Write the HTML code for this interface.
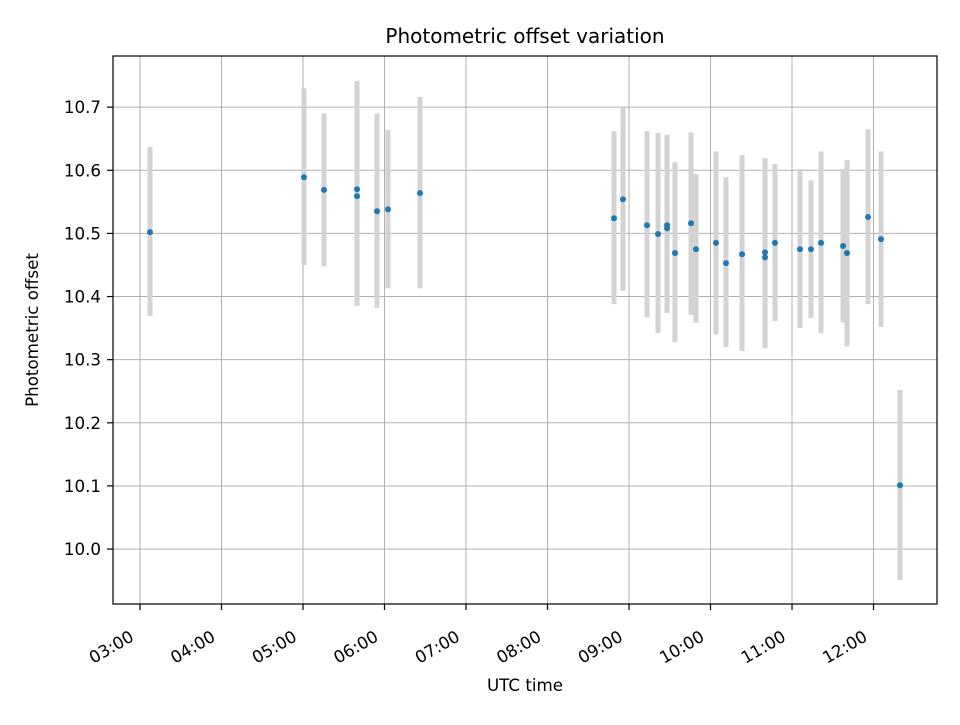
<!DOCTYPE html>
<html><head><meta charset="utf-8"><style>
body{margin:0;background:#fff;}
svg text{font-family:"DejaVu Sans","Liberation Sans",sans-serif;fill:#000;}
</style></head><body>
<svg id="chart" width="960" height="720">
<text x="525" y="43" font-size="20" text-anchor="middle">Photometric offset variation</text>
<text x="525" y="691" font-size="16.7" text-anchor="middle">UTC time</text>
<text transform="translate(38,330) rotate(-90)" font-size="16.7" text-anchor="middle">Photometric offset</text>
<g id="grid"></g><g id="bars"></g><g id="pts"></g><g id="axes"></g>
</svg>
<script>
const hours=[3.123,5.012,5.258,5.663,5.663,5.908,6.043,6.436,8.816,8.926,9.221,9.356,9.467,9.467,9.564,9.761,9.822,10.067,10.190,10.387,10.669,10.669,10.791,11.098,11.233,11.356,11.626,11.675,11.933,12.092,12.325];
const values=[10.502,10.589,10.569,10.570,10.559,10.535,10.538,10.564,10.524,10.554,10.513,10.499,10.513,10.508,10.469,10.516,10.475,10.485,10.453,10.467,10.470,10.462,10.485,10.475,10.475,10.485,10.480,10.469,10.526,10.491,10.101];
const errLow=[10.369,10.450,10.448,10.385,10.385,10.382,10.413,10.413,10.388,10.409,10.367,10.342,10.374,10.374,10.328,10.371,10.358,10.340,10.320,10.314,10.318,10.318,10.361,10.350,10.366,10.342,10.359,10.321,10.388,10.352,9.951];
const errHigh=[10.637,10.730,10.690,10.741,10.741,10.690,10.664,10.716,10.662,10.700,10.662,10.659,10.656,10.656,10.613,10.660,10.594,10.630,10.589,10.624,10.619,10.619,10.610,10.602,10.584,10.630,10.602,10.616,10.665,10.630,10.252];
const xTickHours=[3,4,5,6,7,8,9,10,11,12];
const xTickLabels=["03:00","04:00","05:00","06:00","07:00","08:00","09:00","10:00","11:00","12:00"];
const yTicks=[10.0,10.1,10.2,10.3,10.4,10.5,10.6,10.7];
const yTickLabels=["10.0","10.1","10.2","10.3","10.4","10.5","10.6","10.7"];

const L=113,R=937,T=56,B=604,X0=2.669,X1=12.779,Y0=9.913,Y1=10.781;
const sx=h=>L+(h-X0)/(X1-X0)*(R-L);
const sy=v=>B-(v-Y0)/(Y1-Y0)*(B-T);
const NS="http://www.w3.org/2000/svg";
function mk(tag,attrs,parent){const e=document.createElementNS(NS,tag);for(const k in attrs)e.setAttribute(k,attrs[k]);document.getElementById(parent).appendChild(e);return e;}

xTickHours.forEach((h,i)=>{
  const x=sx(h);
  const g=mk('line',{x1:x,x2:x,y1:T,y2:B,stroke:'#b0b0b0','stroke-width':1},'grid');
  
  
  const t=mk('line',{x1:x,x2:x,y1:B,y2:B+6,stroke:'#000','stroke-width':1.2},'axes');
  
  
  const lb=mk('text',{transform:`translate(${x-5},${B+36}) rotate(-30)`,'font-size':16.7,'text-anchor':'end'},'axes');
  lb.textContent=xTickLabels[i];
  
  
});
yTicks.forEach((v,i)=>{
  const y=sy(v);
  const g=mk('line',{x1:L,x2:R,y1:y,y2:y,stroke:'#b0b0b0','stroke-width':1},'grid');
  
  
  const t=mk('line',{x1:L-6,x2:L,y1:y,y2:y,stroke:'#000','stroke-width':1.2},'axes');
  
  
  const lb=mk('text',{x:L-12,y:y+6,'font-size':16.7,'text-anchor':'end'},'axes');
  lb.textContent=yTickLabels[i];
  
  
});
hours.forEach((h,i)=>{
  const b=mk('line',{x1:sx(h),x2:sx(h),y1:sy(errHigh[i]),y2:sy(errLow[i]),stroke:'#d3d3d3','stroke-width':5},'bars');
  
  
  const p=mk('circle',{cx:sx(h),cy:sy(values[i]),r:3,fill:'#1f77b4'},'pts');
  
  
});
const f=mk('rect',{x:L,y:T,width:R-L,height:B-T,fill:'none',stroke:'#000','stroke-width':1.2},'axes');


</script>
</body></html>
